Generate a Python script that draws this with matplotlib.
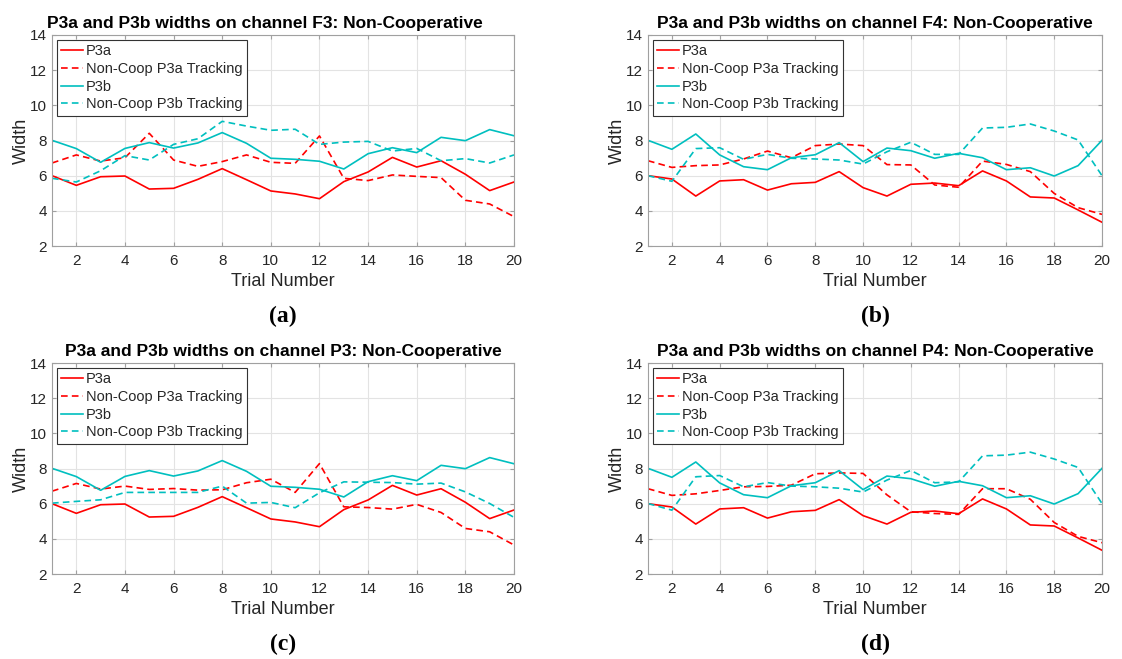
import matplotlib
matplotlib.use("Agg")
import matplotlib.pyplot as plt

plt.rcParams["font.family"] = ["Liberation Sans", "DejaVu Sans"]

trials = list(range(1, 21))

# ---- channel F3 / P3 (shared component widths) ----
p3a_f3 = [6.00, 5.45, 5.94, 5.98, 5.24, 5.28, 5.79, 6.40, 5.77, 5.13,
          4.96, 4.69, 5.66, 6.21, 7.04, 6.49, 6.85, 6.08, 5.15, 5.64]
p3b_f3 = [8.01, 7.54, 6.76, 7.55, 7.88, 7.57, 7.86, 8.45, 7.84, 6.99,
          6.93, 6.82, 6.38, 7.25, 7.59, 7.31, 8.18, 7.99, 8.62, 8.27]
track_a_f3 = [6.72, 7.18, 6.83, 7.02, 8.41, 6.89, 6.53, 6.80, 7.18, 6.76,
              6.70, 8.26, 5.85, 5.72, 6.04, 5.96, 5.89, 4.60, 4.39, 3.67]
track_b_f3 = [5.85, 5.64, 6.28, 7.14, 6.89, 7.78, 8.10, 9.09, 8.82, 8.58,
              8.64, 7.78, 7.91, 7.95, 7.40, 7.55, 6.85, 6.97, 6.72, 7.18]
track_a_p3 = [6.71, 7.15, 6.83, 7.00, 6.81, 6.86, 6.77, 6.79, 7.19, 7.39,
              6.64, 8.28, 5.82, 5.78, 5.69, 5.96, 5.50, 4.59, 4.40, 3.65]
track_b_p3 = [6.03, 6.13, 6.22, 6.64, 6.64, 6.64, 6.64, 7.00, 6.03, 6.07,
              5.77, 6.62, 7.24, 7.22, 7.20, 7.11, 7.17, 6.67, 6.01, 5.22]

# ---- channel F4 / P4 ----
p3a_f4 = [6.00, 5.81, 4.84, 5.70, 5.77, 5.18, 5.54, 5.62, 6.23, 5.32,
          4.84, 5.51, 5.58, 5.43, 6.27, 5.70, 4.79, 4.73, 4.05, 3.35]
p3b_f4 = [8.01, 7.50, 8.37, 7.18, 6.51, 6.34, 7.02, 7.19, 7.88, 6.80,
          7.57, 7.42, 6.99, 7.27, 7.02, 6.34, 6.45, 5.98, 6.57, 8.01]
track_a_f4 = [6.85, 6.47, 6.57, 6.61, 6.95, 7.40, 7.02, 7.71, 7.80, 7.71,
              6.63, 6.61, 5.47, 5.34, 6.83, 6.64, 6.23, 4.99, 4.18, 3.80]
track_b_f4 = [6.00, 5.68, 7.54, 7.59, 6.93, 7.21, 6.99, 6.95, 6.89, 6.66,
              7.36, 7.90, 7.21, 7.21, 8.71, 8.75, 8.94, 8.54, 8.03, 6.00]
track_a_p4 = [6.85, 6.47, 6.56, 6.75, 6.96, 6.98, 7.05, 7.70, 7.75, 7.72,
              6.50, 5.54, 5.44, 5.39, 6.85, 6.85, 6.25, 4.93, 4.14, 3.78]
track_b_p4 = [6.01, 5.63, 7.53, 7.60, 6.96, 7.20, 7.00, 6.96, 6.88, 6.66,
              7.34, 7.89, 7.19, 7.24, 8.72, 8.76, 8.93, 8.54, 8.06, 6.01]

panels = [
    ("F3", "(a)", p3a_f3, track_a_f3, p3b_f3, track_b_f3),
    ("F4", "(b)", p3a_f4, track_a_f4, p3b_f4, track_b_f4),
    ("P3", "(c)", p3a_f3, track_a_p3, p3b_f3, track_b_p3),
    ("P4", "(d)", p3a_f4, track_a_p4, p3b_f4, track_b_p4),
]

W, H = 1122, 659
RED = "#ff0000"
CYAN = "#00bfbf"

# axes boxes in pixels: left, top, right, bottom
boxes = [(52, 35, 514, 246), (648, 35, 1102, 246),
         (52, 363, 514, 574), (648, 363, 1102, 574)]
# title centre in pixels (the first one sits a bit to the left)
title_x = [265, 875, 283, 875]

fig = plt.figure(figsize=(W / 100, H / 100), dpi=100)

for (chan, tag, a, ta, b, tb), (l, t, r, btm), tx in zip(panels, boxes, title_x):
    ax = fig.add_axes([l / W, 1 - btm / H, (r - l) / W, (btm - t) / H])
    ax.plot(trials, a, color=RED, lw=1.2, label="P3a")
    ax.plot(trials, ta, color=RED, lw=1.2, ls=(0, (4, 2.5)),
            label="Non-Coop P3a Tracking")
    ax.plot(trials, b, color=CYAN, lw=1.2, label="P3b")
    ax.plot(trials, tb, color=CYAN, lw=1.2, ls=(0, (4, 2.5)),
            label="Non-Coop P3b Tracking")

    ax.set_xlim(1, 20)
    ax.set_ylim(2, 14)
    ax.set_xticks(range(2, 21, 2))
    ax.set_yticks(range(2, 15, 2))
    ax.grid(True, color="#e3e3e3", lw=0.8)
    ax.set_axisbelow(True)
    for s in ax.spines.values():
        s.set_color("#a0a0a0")
        s.set_linewidth(0.8)
    ax.tick_params(direction="in", length=3, color="#a0a0a0",
                   labelcolor="#262626", labelsize=11, top=True, right=True,
                   labeltop=False, labelright=False)
    ax.tick_params(axis="x", pad=6)

    ax.set_title(f"P3a and P3b widths on channel {chan}: Non-Cooperative",
                 fontsize=12.5, fontweight="bold", pad=5,
                 x=(tx - l) / (r - l))
    ax.set_xlabel("Trial Number", fontsize=13, color="#262626", labelpad=3)
    ax.set_ylabel("Width", fontsize=13, color="#262626", labelpad=0)

    leg = ax.legend(loc="upper left", fontsize=10.5, handlelength=1.5,
                    handletextpad=0.15, borderpad=0.3, labelspacing=0.25,
                    borderaxespad=0.35, fancybox=False, framealpha=1)
    leg.get_frame().set_edgecolor("#333333")
    leg.get_frame().set_linewidth(0.8)
    for txt in leg.get_texts():
        txt.set_color("#262626")

    fig.text((l + r) / 2 / W, 1 - (btm + 70) / H, tag,
             ha="center", va="center", fontsize=17, fontweight="bold",
             family=["Liberation Serif", "DejaVu Serif"])

fig.savefig("out.png", dpi=100)
